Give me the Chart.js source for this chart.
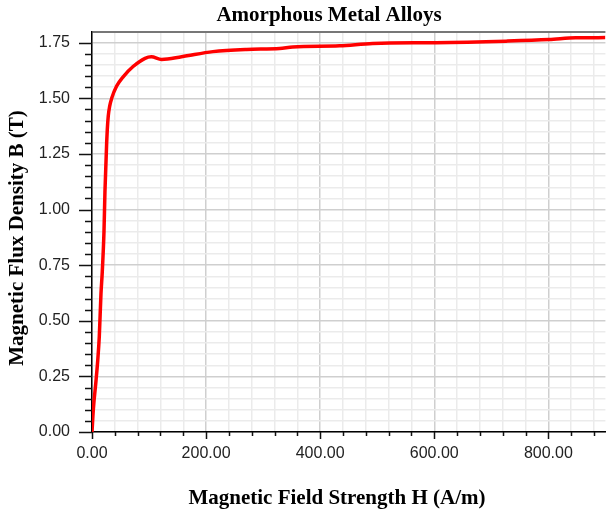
<!DOCTYPE html>
<html>
<head>
<meta charset="utf-8">
<script src="https://cdn.jsdelivr.net/npm/chart.js@4/dist/chart.umd.min.js"></script>
<style>
  html, body { margin: 0; padding: 0; background: #fff; }
</style>
</head>
<body>
<canvas id="chart" width="606" height="511"></canvas>
<script>
// B-H curve
const H_VALUES = [0, 2.3, 7, 10, 12.8, 15.7, 18, 21, 22.7, 25.7, 26.8, 28.5, 31, 34.5, 43, 55, 72, 93, 104, 122, 157, 212, 271, 329, 352, 434, 492, 603, 726, 801, 848, 900];
const B_VALUES = [0, 0.10, 0.23, 0.32, 0.43, 0.62, 0.72, 0.90, 1.08, 1.30, 1.36, 1.42, 1.465, 1.5, 1.554, 1.598, 1.643, 1.68, 1.687, 1.675, 1.687, 1.71, 1.72, 1.724, 1.731, 1.736, 1.747, 1.75, 1.757, 1.764, 1.772, 1.773];

const X_RANGE = [0, 900];
const X_STEP = 40;        // minor
const X_LABEL_STEP = 200; // labelled
const Y_RANGE = [0, 1.8];
const Y_STEP = 0.05;
const Y_LABEL_STEP = 0.25;

const TITLE = 'Amorphous Metal Alloys';
const X_TITLE = 'Magnetic Field Strength H (A/m)';
const Y_TITLE = 'Magnetic Flux Density B (T)';

const isMultiple = (v, step) => Math.abs(v / step - Math.round(v / step)) < 1e-6;

const GRID_MAJOR = '#cfcfcf';
const GRID_MINOR = '#ebebeb';
const TITLE_FONT = 'bold 21px "Liberation Serif", "Times New Roman", serif';
const TICK_FONT = { family: '"Liberation Sans", Arial, sans-serif', size: 16 };

// tick marks (long for labelled values) and the three titles
const decor = {
  id: 'decor',
  beforeDatasetsDraw(chart) {
    const { ctx, scales: { x, y } } = chart;
    ctx.save();
    ctx.strokeStyle = '#111';
    ctx.lineWidth = 1.5;
    ctx.beginPath();
    y.ticks.forEach(t => {
      if (t.value >= Y_RANGE[1]) return;
      const py = Math.round(y.getPixelForValue(t.value)) + 0.5;
      const len = isMultiple(t.value, Y_LABEL_STEP) ? 13 : 7;
      ctx.moveTo(x.left - len, py);
      ctx.lineTo(x.left, py);
    });
    x.ticks.forEach(t => {
      const px = Math.round(x.getPixelForValue(t.value)) + 0.5;
      const len = isMultiple(t.value, X_LABEL_STEP) ? 7 : 4;
      ctx.moveTo(px, y.bottom);
      ctx.lineTo(px, y.bottom + len);
    });
    ctx.stroke();
    ctx.restore();
  },
  afterDraw(chart) {
    const { ctx } = chart;
    ctx.save();
    ctx.fillStyle = '#000';
    ctx.font = TITLE_FONT;
    ctx.textAlign = 'center';
    ctx.textBaseline = 'alphabetic';
    ctx.fillText(TITLE, 329, 21);
    ctx.fillText(X_TITLE, 337, 504);
    ctx.translate(23, 238);
    ctx.rotate(-Math.PI / 2);
    ctx.fillText(Y_TITLE, 0, 0);
    ctx.restore();
  }
};

new Chart(document.getElementById('chart'), {
  type: 'line',
  data: {
    datasets: [{
      data: H_VALUES.map((h, i) => ({ x: h, y: B_VALUES[i] })),
      borderColor: '#ff0000',
      borderWidth: 3.5,
      pointRadius: 0,
      fill: false,
      cubicInterpolationMode: 'monotone'
    }]
  },
  options: {
    responsive: false,
    animation: false,
    devicePixelRatio: 1,
    layout: { padding: { top: 28, right: 0, bottom: 0, left: 0 } },
    plugins: {
      legend: { display: false },
      title: { display: false },
      tooltip: { enabled: false }
    },
    scales: {
      x: {
        type: 'linear',
        min: X_RANGE[0],
        max: X_RANGE[1],
        afterFit: s => { s.height = 79; },
        grid: {
          drawTicks: false,
          color: c => isMultiple(c.tick.value, X_LABEL_STEP) ? GRID_MAJOR : GRID_MINOR,
          lineWidth: 1.5
        },
        border: { color: '#000', width: 1.5 },
        ticks: {
          stepSize: X_STEP,
          includeBounds: false,
          autoSkip: false,
          maxRotation: 0,
          padding: 12,
          color: '#222',
          font: TICK_FONT,
          callback: v => isMultiple(v, X_LABEL_STEP) ? v.toFixed(2) : ''
        }
      },
      y: {
        min: Y_RANGE[0],
        max: Y_RANGE[1],
        afterFit: s => { s.width = 92; },
        grid: {
          drawTicks: false,
          color: c => c.tick.value >= Y_RANGE[1] ? '#777' : (isMultiple(c.tick.value, Y_LABEL_STEP) ? GRID_MAJOR : GRID_MINOR),
          lineWidth: c => c.tick.value >= Y_RANGE[1] ? 2 : 1.5
        },
        border: { color: '#000', width: 1.5 },
        ticks: {
          stepSize: Y_STEP,
          autoSkip: false,
          padding: 22,
          color: '#222',
          font: TICK_FONT,
          callback: v => isMultiple(v, Y_LABEL_STEP) && v < Y_RANGE[1] ? v.toFixed(2) : ''
        }
      }
    }
  },
  plugins: [decor]
});
</script>
</body>
</html>
